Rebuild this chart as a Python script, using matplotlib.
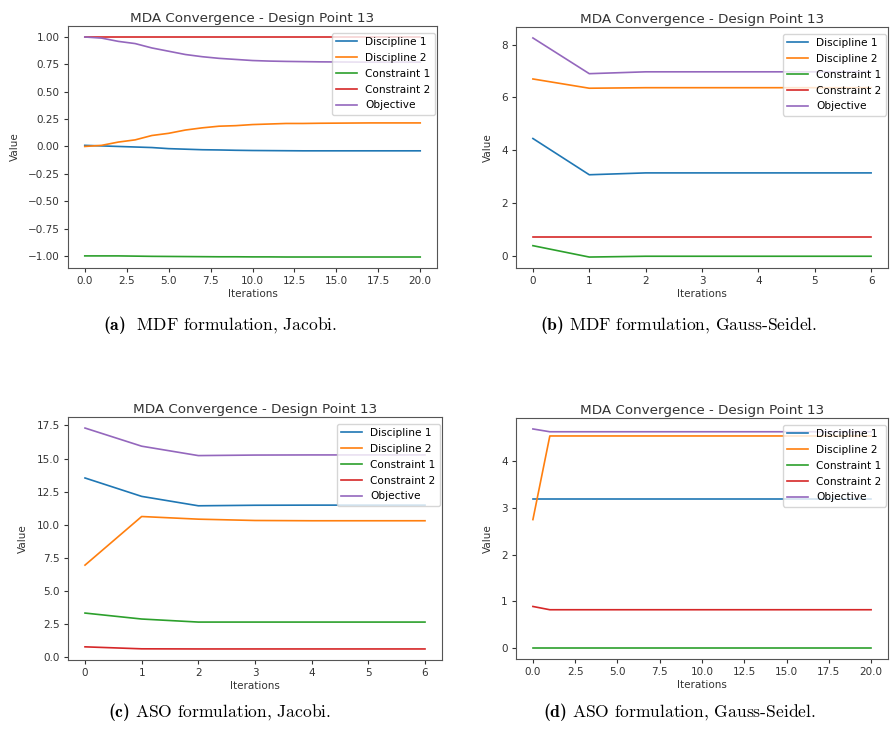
import numpy as np
import matplotlib
matplotlib.use("Agg")
from matplotlib import pyplot as plt

plt.rcParams['mathtext.fontset'] = 'custom'
plt.rcParams['mathtext.rm'] = 'cmr10'
plt.rcParams['mathtext.bf'] = 'cmb10'

labels = ['Discipline 1', 'Discipline 2', 'Constraint 1', 'Constraint 2', 'Objective']

# (a) MDF, Jacobi -- 21 iterations
mdf_jac_d1  = [0.01, 0.005, 0.0, -0.005, -0.01, -0.02, -0.025, -0.03, -0.032, -0.035, -0.037,
               -0.038, -0.039, -0.04, -0.04, -0.04, -0.04, -0.04, -0.04, -0.04, -0.04]
mdf_jac_d2  = [0.0, 0.01, 0.04, 0.06, 0.10, 0.12, 0.15, 0.17, 0.185, 0.19, 0.20,
               0.205, 0.21, 0.21, 0.212, 0.213, 0.214, 0.215, 0.215, 0.215, 0.215]
mdf_jac_c1  = [-1.0, -1.0, -1.0, -1.002, -1.004, -1.005, -1.006, -1.007, -1.008, -1.008, -1.009,
               -1.009, -1.01, -1.01, -1.01, -1.01, -1.01, -1.01, -1.01, -1.01, -1.01]
mdf_jac_c2  = [1.0] * 21
mdf_jac_obj = [1.0, 0.99, 0.96, 0.94, 0.90, 0.87, 0.84, 0.82, 0.805, 0.795, 0.785,
               0.78, 0.777, 0.775, 0.773, 0.772, 0.771, 0.77, 0.77, 0.77, 0.77]

# (b) MDF, Gauss-Seidel -- 7 iterations
mdf_gs_d1  = [4.45, 3.08, 3.15, 3.15, 3.15, 3.15, 3.15]
mdf_gs_d2  = [6.7, 6.35, 6.37, 6.37, 6.37, 6.37, 6.37]
mdf_gs_c1  = [0.4, -0.03, 0.0, 0.0, 0.0, 0.0, 0.0]
mdf_gs_c2  = [0.73, 0.73, 0.73, 0.73, 0.73, 0.73, 0.73]
mdf_gs_obj = [8.25, 6.9, 6.97, 6.97, 6.97, 6.97, 6.97]

# (c) ASO, Jacobi -- 7 iterations
aso_jac_d1  = [13.53, 12.14, 11.43, 11.47, 11.48, 11.48, 11.48]
aso_jac_d2  = [6.95, 10.62, 10.42, 10.32, 10.3, 10.3, 10.3]
aso_jac_c1  = [3.33, 2.88, 2.65, 2.65, 2.65, 2.65, 2.65]
aso_jac_c2  = [0.78, 0.63, 0.62, 0.62, 0.62, 0.62, 0.62]
aso_jac_obj = [17.3, 15.93, 15.22, 15.26, 15.27, 15.27, 15.27]

# (d) ASO, Gauss-Seidel -- 21 iterations
aso_gs_d1  = [3.18] * 21
aso_gs_d2  = [2.75] + [4.54] * 20
aso_gs_c1  = [0.0] * 21
aso_gs_c2  = [0.89] + [0.82] * 20
aso_gs_obj = [4.69] + [4.63] * 20

panels = [
    ([mdf_jac_d1, mdf_jac_d2, mdf_jac_c1, mdf_jac_c2, mdf_jac_obj], r'$\mathbf{(a)}$  MDF formulation, Jacobi.'),
    ([mdf_gs_d1, mdf_gs_d2, mdf_gs_c1, mdf_gs_c2, mdf_gs_obj], r'$\mathbf{(b)}$ MDF formulation, Gauss-Seidel.'),
    ([aso_jac_d1, aso_jac_d2, aso_jac_c1, aso_jac_c2, aso_jac_obj], r'$\mathbf{(c)}$ ASO formulation, Jacobi.'),
    ([aso_gs_d1, aso_gs_d2, aso_gs_c1, aso_gs_c2, aso_gs_obj], r'$\mathbf{(d)}$ ASO formulation, Gauss-Seidel.'),
]

W, H = 890, 740
# axes boxes in pixels: left, top, right, bottom
boxes = [(68, 26, 437, 268), (516, 27, 888, 268), (68, 417, 442, 660), (516, 418, 888, 659)]
caption_pos = [(220, 325), (679, 325), (220, 712), (679, 712)]

fig = plt.figure(figsize=(W / 100, H / 100), dpi=100)

for (series, caption), (l, t, r, b), (cx, cy) in zip(panels, boxes, caption_pos):
    ax = fig.add_axes([l / W, 1 - b / H, (r - l) / W, (b - t) / H])
    it = np.arange(len(series[0]))
    for vals, lab in zip(series, labels):
        ax.plot(it, vals, label=lab, lw=1.2)
    ax.set_title('MDA Convergence - Design Point 13', fontsize=9.7, pad=3, color='#333333')
    ax.set_xlabel('Iterations', fontsize=7.5, labelpad=2, color='#333333')
    ax.set_ylabel('Value', fontsize=7.5, labelpad=6, color='#333333')
    ax.tick_params(labelsize=7.5, length=3, pad=3, colors='#333333')
    for sp in ax.spines.values():
        sp.set_color('#555555')
    ax.legend(loc='upper right', bbox_to_anchor=(1.0, 0.98), fontsize=7.6, handlelength=2.0,
              borderaxespad=0.2, labelspacing=0.55, framealpha=0.8)
    fig.text(cx / W, 1 - cy / H, caption, ha='center', va='center',
             fontsize=12.6, family='cmr10')

fig.savefig('out.png', dpi=100)
